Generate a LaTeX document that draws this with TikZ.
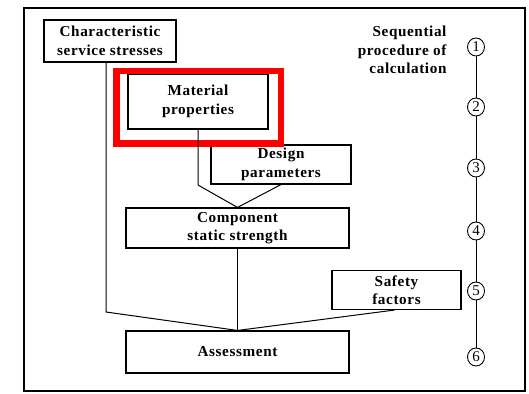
\documentclass[tikz,border=0pt]{standalone}
\usepackage{fontspec}
\usetikzlibrary{shapes.geometric}
\setmainfont{Liberation Serif}
\newfontfamily\spacedbold[LetterSpace=4]{Liberation Serif}
\newcommand{\labelfont}{\spacedbold\fontsize{15.2}{18.5}\selectfont\bfseries}
\begin{document}
\begin{tikzpicture}[x=1pt,y=-1pt,
  box/.style={draw, line width=1.1pt, inner sep=0pt, align=center, font=\labelfont},
  wire/.style={line width=1pt},
  stepmark/.style={draw, ellipse, line width=0.9pt, minimum width=17pt, minimum height=18pt,
    inner sep=0pt, fill=white, font=\fontsize{15}{15}\selectfont},
  highlight/.style={draw=red, line width=6.5pt}
]
\useasboundingbox (0,0) rectangle (529,393);
% outer frame
\draw[line width=1.6pt] (24,8) rectangle (525,391);

% boxes of the procedure
\node[box, minimum width=132pt, minimum height=42pt] (css) at (110,41) {Characteristic\\service stresses};
\node[box, minimum width=140pt, minimum height=55pt] (mat) at (198,101.5) {Material\\properties};
\node[box, minimum width=140pt, minimum height=39pt] (des) at (281,164.5) {Design\\parameters};
\node[box, minimum width=223pt, minimum height=40pt] (cmp) at (237.5,228) {Component\\static strength};
\node[box, minimum width=129pt, minimum height=39pt] (saf) at (396.5,290) {Safety\\factors};
\node[box, minimum width=223pt, minimum height=42pt] (asm) at (237.5,352) {Assessment};

% highlight frame round the material box
\draw[highlight] (116.5,71) rectangle (281,143.5);

% connectors
\coordinate (k1) at (106,312);
\coordinate (k2) at (198,185);
\draw[wire] (css.south -| k1) -- (k1) -- (asm.north);
\draw[wire] (mat.south) -- (k2) -- (cmp.north);
\draw[wire] (des.south) -- (cmp.north);
\draw[wire] (cmp.south) -- (asm.north);
\draw[wire] ([xshift=-2pt]saf.south) -- (asm.north);

% sequence of steps
\node[anchor=east, align=right, font=\labelfont] (seq) at (450,50) {Sequential\\procedure of\\calculation};
\node[stepmark] (s1) at (476,47) {1};
\node[stepmark] (s2) at (476,107) {2};
\node[stepmark] (s3) at (476,168) {3};
\node[stepmark] (s4) at (476,231) {4};
\node[stepmark] (s5) at (476,291) {5};
\node[stepmark] (s6) at (476,357) {6};
\draw[wire] (s1) -- (s2) -- (s3) -- (s4) -- (s5) -- (s6);
\end{tikzpicture}
\end{document}
